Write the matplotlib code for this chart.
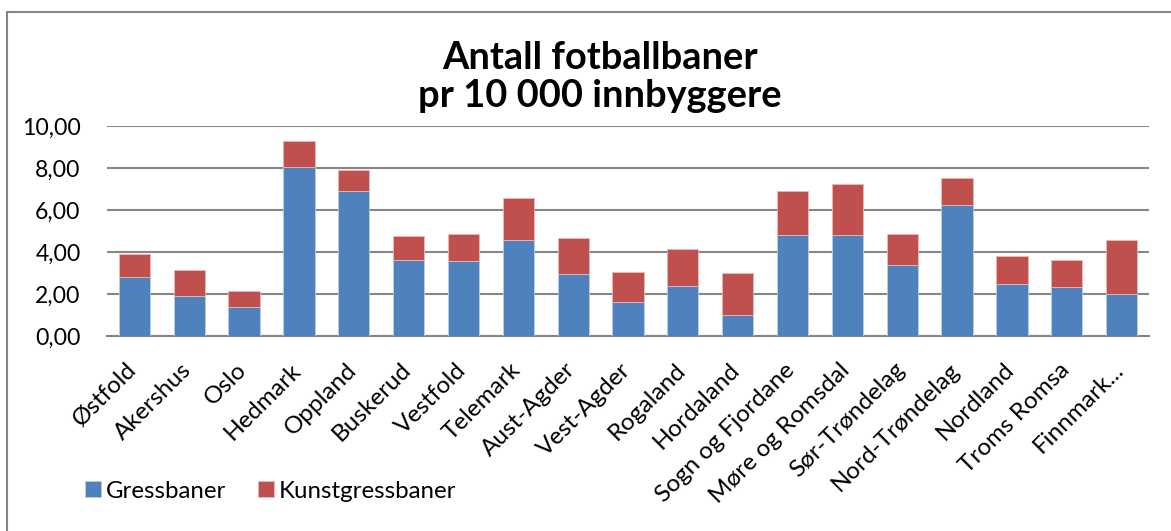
import matplotlib
matplotlib.use("Agg")
import matplotlib.pyplot as plt
import matplotlib.transforms as mtransforms
import numpy as np
from matplotlib.patches import Rectangle

plt.rcParams["font.family"] = ["Lato", "DejaVu Sans"]

fylker = ["Østfold", "Akershus", "Oslo", "Hedmark", "Oppland", "Buskerud",
          "Vestfold", "Telemark", "Aust-Agder", "Vest-Agder", "Rogaland",
          "Hordaland", "Sogn og Fjordane", "Møre og Romsdal", "Sør-Trøndelag",
          "Nord-Trøndelag", "Nordland", "Troms Romsa", "Finnmark..."]
gress = [2.81, 1.89, 1.38, 8.04, 6.89, 3.64, 3.55, 4.56, 2.93, 1.64, 2.36,
         1.02, 4.79, 4.82, 3.40, 6.23, 2.50, 2.31, 2.02]
totalt = [3.90, 3.15, 2.15, 9.27, 7.89, 4.75, 4.85, 6.55, 4.69, 3.07, 4.13,
          3.00, 6.90, 7.24, 4.85, 7.51, 3.80, 3.61, 4.56]
kunstgress = [t - g for t, g in zip(totalt, gress)]
yticks = [0, 2, 4, 6, 8, 10]

BLUE = "#4F81BD"
RED = "#C0504D"
GRID = "#868686"
W, H = 1171, 531

fig = plt.figure(figsize=(W / 100, H / 100), dpi=100)
fig.patches.append(Rectangle((7 / W, -0.1), 1.2, 1 - 12 / H + 0.1,
                             transform=fig.transFigure, fill=False,
                             edgecolor=GRID, lw=1.5))

ax = fig.add_axes([107 / W, 1 - 336 / H, (1149 - 107) / W, 210 / H])
x = np.arange(len(fylker))
w = 0.57
ax.bar(x, gress, w, color=BLUE, edgecolor="#B9CDE5", lw=0.6, label="Gressbaner", zorder=3)
ax.bar(x, kunstgress, w, bottom=gress, color=RED, edgecolor="#E6B9B8", lw=0.6,
       label="Kunstgressbaner", zorder=3)

ax.set_xlim(-0.5, len(fylker) - 0.5)
ax.set_ylim(0, 10)
ax.set_yticks(yticks)
ax.set_yticklabels([f"{v:.2f}".replace(".", ",") for v in yticks], fontsize=16.6)
ax.yaxis.grid(True, color=GRID, lw=1.5, zorder=0)
ax.tick_params(axis="both", length=0, pad=14)
ax.tick_params(axis="y", pad=19)
for s in ("left", "right", "top"):
    ax.spines[s].set_visible(False)
ax.spines["bottom"].set_color(GRID)
ax.spines["bottom"].set_linewidth(1.5)

ax.set_xticks(x)
ax.set_xticklabels(fylker, rotation=45, ha="right", va="center",
                   rotation_mode="anchor", fontsize=17.5)
shift = mtransforms.ScaledTranslation(-1 / 100, -11 / 100, fig.dpi_scale_trans)
for lab in ax.get_xticklabels():
    lab.set_transform(lab.get_transform() + shift)

fig.text(0.512, 1 - 69 / H, "Antall fotballbaner", ha="center", va="baseline",
         fontsize=27.4, fontweight="bold")
fig.text(0.512, 1 - 107 / H, "pr 10 000 innbyggere", ha="center", va="baseline",
         fontsize=27.4, fontweight="bold")

leg = ax.legend(loc="center left", bbox_to_anchor=(85 / W, 1 - 491 / H),
                bbox_transform=fig.transFigure, ncol=2, frameon=False,
                fontsize=17.3, handlelength=0.67, handleheight=0.67,
                handletextpad=0.21, columnspacing=1.29,
                borderaxespad=0, borderpad=0)

fig.savefig("out.png", dpi=100)
